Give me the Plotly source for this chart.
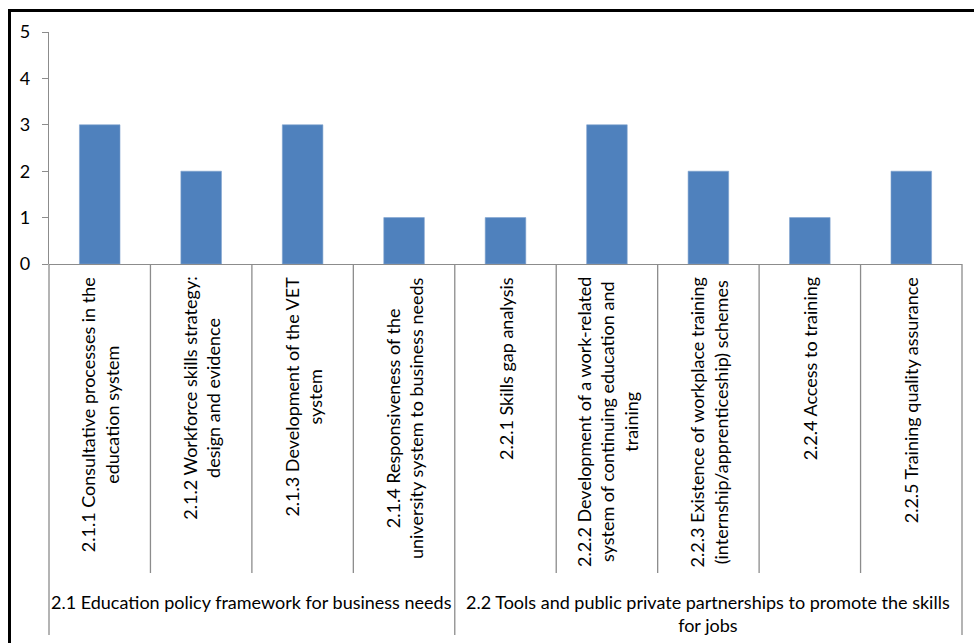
import plotly.graph_objects as go

# Indicator scores for each sub-dimension
categories = [
    "2.1.1 Consultative processes in the<br>education system",
    "2.1.2 Workforce skills strategy:<br>design and evidence",
    "2.1.3 Development of the VET<br>system",
    "2.1.4 Responsiveness of the<br>university system to business needs",
    "2.2.1 Skills gap analysis",
    "2.2.2 Development of a work-related<br>system of continuing education and<br>training",
    "2.2.3 Existence of workplace training<br>(internship/apprenticeship) schemes",
    "2.2.4 Access to training",
    "2.2.5 Training quality assurance",
]
scores = [3, 2, 3, 1, 1, 3, 2, 1, 2]

# Outer grouping of the categories: (label, first index, last index)
groups = [
    ("2.1 Education policy framework for business needs", 0, 3),
    ("2.2 Tools and public private partnerships to promote the skills<br>for jobs", 4, 8),
]

y_ticks = [0, 1, 2, 3, 4, 5]

W, H = 974, 643
L, R, T, B = 49, 12, 32, 379
plot_w = W - L - R
plot_h = H - T - B
FONT = "Lato"
FS = 18
GREY = "#8c8c8c"


def py(pix):
    """Pixel row -> paper y coordinate."""
    return (H - B - pix) / plot_h


def px(pix):
    """Pixel column -> paper x coordinate."""
    return (pix - L) / plot_w


n = len(categories)
x_pos = list(range(n))

fig = go.Figure(
    go.Bar(
        x=x_pos,
        y=scores,
        width=0.4,
        marker=dict(color="#4F81BD", line=dict(color="#7FA2CF", width=0.6)),
        hoverinfo="y",
    )
)

shapes = []
group_edges = {g[1] for g in groups} | {groups[-1][2] + 1}
for k in range(n + 1):
    bottom = py(635) if k in group_edges else py(573)
    shapes.append(dict(type="line", xref="paper", yref="paper",
                       x0=k / n, x1=k / n, y0=0, y1=bottom,
                       line=dict(color=GREY, width=1.3)))

# Outer frame (left and top edges)
shapes.append(dict(type="line", xref="paper", yref="paper",
                   x0=px(9.5), x1=px(9.5), y0=py(9), y1=py(660),
                   line=dict(color="black", width=3)))
shapes.append(dict(type="line", xref="paper", yref="paper",
                   x0=px(8), x1=px(990), y0=py(10.5), y1=py(10.5),
                   line=dict(color="black", width=3)))

annotations = []
for i, lab in enumerate(categories):
    annotations.append(dict(
        x=i, xref="x", y=py(275), yref="paper",
        text=lab, textangle=-90, showarrow=False,
        xanchor="center", yanchor="top", align="center",
        font=dict(family=FONT, size=FS, color="#000000"),
    ))
for lab, a, b in groups:
    annotations.append(dict(
        x=(a + b) / 2, xref="x", y=py(589), yref="paper",
        text=lab, showarrow=False,
        xanchor="center", yanchor="top", align="center",
        font=dict(family=FONT, size=FS, color="#000000"),
    ))

fig.update_layout(
    width=W, height=H,
    margin=dict(l=L, r=R, t=T, b=B, pad=0),
    paper_bgcolor="white", plot_bgcolor="white",
    showlegend=False,
    shapes=shapes,
    annotations=annotations,
    font=dict(family=FONT, size=FS, color="#000000"),
    xaxis=dict(range=[-0.5, n - 0.5], showticklabels=False, ticks="",
               showgrid=False, zeroline=False, showline=False, fixedrange=True),
    yaxis=dict(range=[0, 5], tickvals=y_ticks, ticks="outside", ticklen=6,
               tickcolor=GREY, tickwidth=1.3, showline=True, linecolor=GREY,
               linewidth=1.3, showgrid=False, zeroline=True, zerolinecolor=GREY,
               zerolinewidth=1.3, ticklabelstandoff=8,
               tickfont=dict(family=FONT, size=FS, color="#000000"),
               fixedrange=True),
)

fig.write_html("out.html")
